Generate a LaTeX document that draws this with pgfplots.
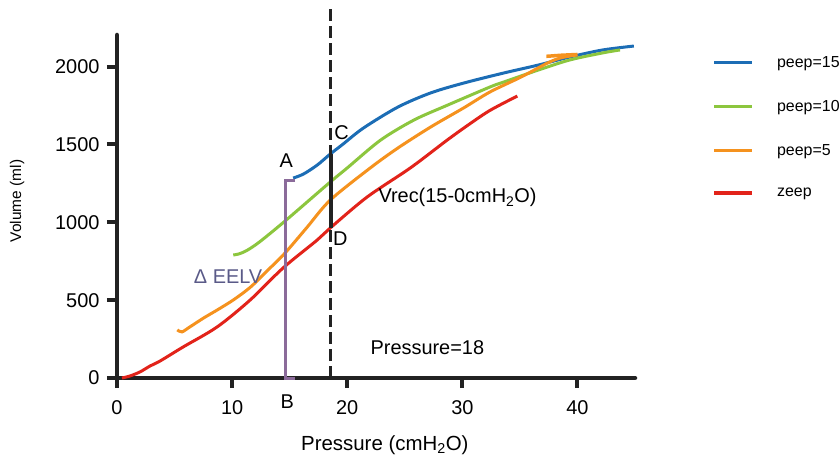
\documentclass[border=0pt]{standalone}
\usepackage{fontspec}
\setmainfont{Liberation Sans}
\usepackage{pgfplots}
\pgfplotsset{compat=1.18}
\definecolor{cblue}{HTML}{1C6DB5}
\definecolor{cgreen}{HTML}{8CC63E}
\definecolor{corange}{HTML}{F5921E}
\definecolor{cred}{HTML}{E2231A}
\definecolor{cpurple}{HTML}{8B6B9A}
\definecolor{cslate}{HTML}{5A5A88}
\definecolor{axblack}{HTML}{222222}
\tikzset{lab/.style={font=\fontsize{20}{24}\selectfont, inner sep=0pt}}

\begin{document}
\begin{tikzpicture}
\useasboundingbox (-117bp,-81bp) rectangle (722bp,378bp);
\begin{axis}[
  at={(0,0)}, anchor=south west,
  scale only axis, width=518bp, height=343bp,
  xmin=0, xmax=45, ymin=0, ymax=2203,
  clip=false,
  axis x line=bottom, axis y line=left,
  axis line style={-, line width=4.5bp, line cap=round, axblack},
  xtick={0,10,20,30,40}, ytick={0,500,1000,1500,2000},
  tick align=outside, major tick length=10bp,
  tick style={line width=4bp, axblack},
  tick label style={font=\fontsize{20}{24}\selectfont},
  xticklabel style={yshift=-9bp},
  yticklabel style={xshift=-4bp},
  /pgf/number format/assume math mode=true,
  /pgf/number format/1000 sep={},
  xlabel={Pressure (cmH\textsubscript{2}O)},
  xlabel style={at={(axis description cs:0.517,-0.212)}, anchor=base,
                font=\fontsize{20.5}{24}\selectfont, inner sep=0pt},
  ylabel={Volume (ml)},
  ylabel style={at={(axis description cs:-0.193,0.516)}, anchor=center,
                font=\fontsize{15.5}{18}\selectfont, inner sep=0pt},
  legend style={draw=none, fill=none, at={(1.149,0.939)}, anchor=north west,
                font=\fontsize{16}{19}\selectfont, row sep=31.5bp,
                inner sep=0pt, nodes={inner sep=0pt}, column sep=0pt},
  legend cell align=left,
  legend image code/.code={\draw[#1, line width=3.5bp] (0bp,0bp) -- (38bp,0bp);
                           \path[draw=none, fill=none] (0bp,0bp) -- (63bp,0bp);},
]
% peep=15
\addplot[cblue, line width=3bp, smooth] coordinates {
  (15.3,1284) (16.2,1310) (17.4,1368) (18.55,1440) (19.6,1500)
  (21.4,1605) (24.4,1740) (27.25,1831) (30.1,1894) (33.6,1959)
  (36.6,2010) (39.35,2062) (42.2,2107) (44.9,2132)
};
\addlegendentry{peep=15}
% peep=10
\addplot[cgreen, line width=3bp, smooth] coordinates {
  (10.1,790) (10.6,797) (11.3,820) (12.4,875) (14.66,1012) (18.53,1259)
  (20.0,1349) (22.9,1528) (25.8,1657) (28.7,1752) (32.4,1869) (33.6,1901)
  (36.6,1978) (39.35,2043) (42.2,2088) (43.7,2107)
};
\addlegendentry{peep=10}
% peep=5
\addplot[corange, line width=3bp, smooth] coordinates {
  (5.24,309) (5.64,296) (6.33,328) (7.52,385) (8.71,437) (10.1,501)
  (11.6,584) (13.07,690) (14.6,803) (16.5,967) (18.53,1143) (22.0,1349)
  (24.4,1477) (27.25,1612) (30.1,1734) (32.4,1837) (35.1,1933)
  (37.4,2023) (38.55,2056) (40.0,2075)
};
\addlegendentry{peep=5}
% zeep
\addplot[cred, line width=3bp, smooth] coordinates {
  (0.43,0) (1.13,13) (2.0,39) (2.87,77) (3.74,109) (5.74,199) (8.7,328)
  (11.57,501) (14.43,707) (17.39,886) (18.52,963) (21.74,1163)
  (25.48,1349) (28.7,1529) (30.7,1635) (32.43,1720) (34.78,1811)
};
\addlegendentry{zeep}
\addplot[corange, line width=3.5bp, forget plot] coordinates {
  (37.3,2066) (38.6,2073) (40.0,2078)
};

% annotations
\draw[axblack, line width=3.5bp, dash pattern=on 12bp off 5bp]
  (axis cs:18.55,0) -- (axis cs:18.55,2389);
\draw[axblack, line width=4bp] (axis cs:18.55,963) -- (axis cs:18.55,1440);
\draw[cpurple, line width=3bp]
  (axis cs:15.48,1267) -- (axis cs:14.6,1267) -- (axis cs:14.6,0) -- (axis cs:15.48,0);
\node[lab, anchor=base] at (axis cs:14.7,1355) {A};
\node[lab, anchor=base] at (axis cs:14.8,-193) {B};
\node[lab, anchor=base] at (axis cs:19.5,1529) {C};
\node[lab, anchor=base] at (axis cs:19.4,854) {D};
\node[lab, anchor=base west] at (axis cs:22.7,1124) {Vrec(15-0cmH\textsubscript{2}O)};
\node[lab, anchor=base, text=cslate] at (axis cs:9.65,610) {Δ EELV};
\node[lab, anchor=base] at (axis cs:26.96,148) {Pressure=18};
\end{axis}
\end{tikzpicture}
\end{document}
